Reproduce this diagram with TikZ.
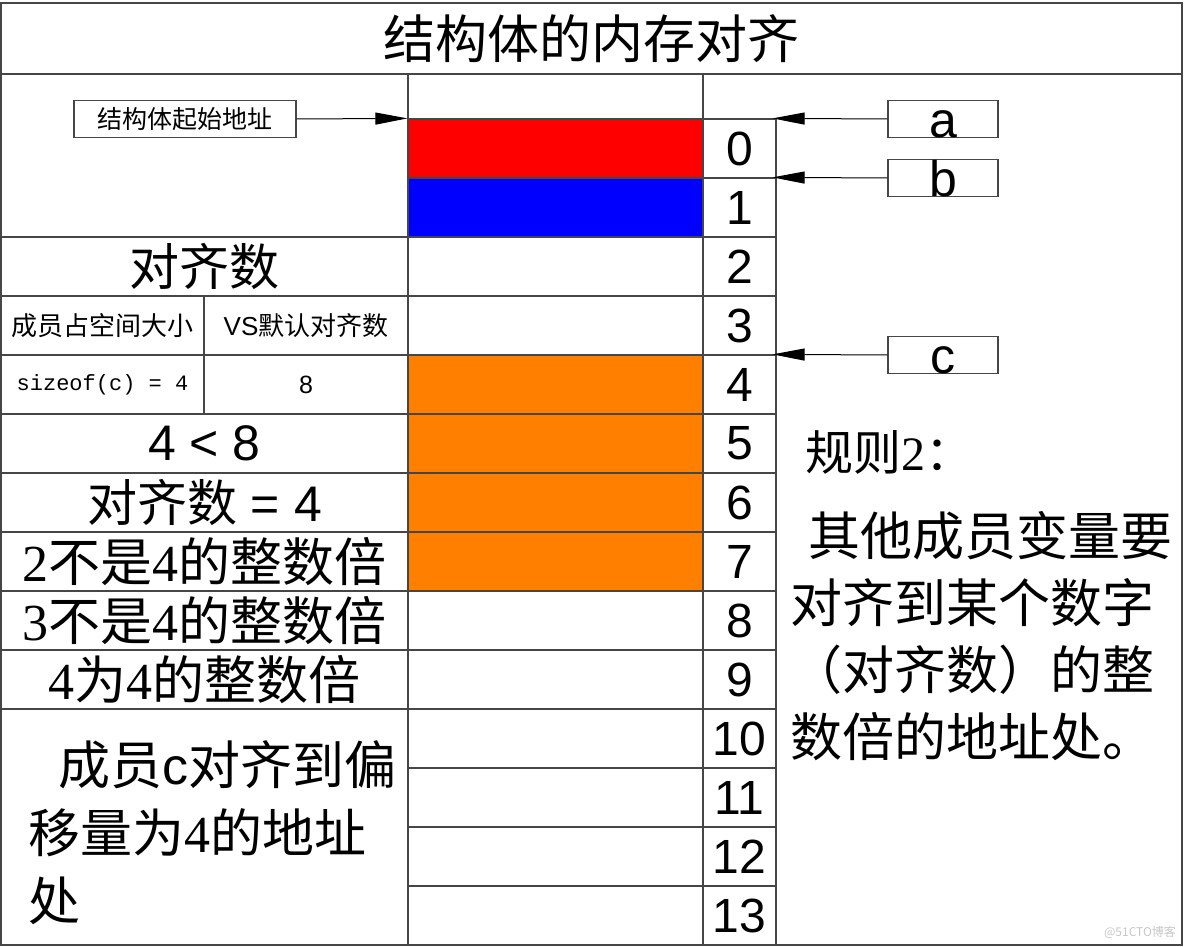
\documentclass[tikz,border=0pt]{standalone}
\usepackage{fontspec}
\setmainfont{Noto Sans CJK SC}
\newfontfamily\arialfont{Liberation Sans}
\newfontfamily\songnum{Liberation Serif}
\newfontfamily\monofont{Liberation Mono}
\usepackage{xcolor}
\usepackage{tikz}
\usetikzlibrary{arrows.meta}

\definecolor{gridline}{RGB}{70,70,70}
\definecolor{memred}{RGB}{255,0,0}
\definecolor{memblue}{RGB}{0,0,255}
\definecolor{memorange}{RGB}{255,128,0}
\newcommand{\fsz}[2]{\fontsize{#1}{#2}\selectfont}

\begin{document}
\begin{tikzpicture}[
    x=1pt, y=-1pt,
    cell/.style 2 args={draw=gridline, line width=1.2pt, inner sep=0pt, minimum width=#1, minimum height=#2},
    ptrbox/.style={draw=gridline, line width=1.2pt, inner sep=0pt, minimum width=110, minimum height=37, text height=37pt, text depth=0pt, font=\arialfont\fsz{50}{50}},
    idx/.style={font=\arialfont\fsz{48}{48}},
    ptr/.style={-{Triangle[length=32pt,width=12pt]}, line width=1pt}
]
    \useasboundingbox (0,0) rectangle (1184,947);

    % Title and big cells
    \node[cell={1181}{71}, font=\fsz{52}{52}] (title) at (591.5,38.5) {结构体的内存对齐};
    \node[cell={479}{871}] (rightarea) at (942.5,509.5) {};
    \node[cell={407}{163}] (startcell) at (204.5,155.5) {};
    \node[cell={295}{45}] (memtop) at (555.5,96.5) {};

    % Memory column and offsets
    \foreach \i/\col in {0/memred, 1/memblue, 2/white, 3/white, 4/memorange, 5/memorange, 6/memorange,
                         7/memorange, 8/white, 9/white, 10/white, 11/white, 12/white, 13/white} {
        \node[cell={295}{59}, fill=\col] (m\i) at (555.5,{148.5+59*\i}) {};
        \node[cell={73}{59}, idx] (n\i) at (739.5,{148.5+59*\i}) {\i};
    }

    % Left column - alignment reasoning
    \node[cell={407}{59}, font=\fsz{50}{50}] (r2) at (204.5,266.5) {对齐数};
    \node[cell={203}{59}, font=\fsz{26}{26}] (r3a) at (102.5,325.5) {成员占空间大小};
    \node[cell={204}{59}, font=\fsz{26}{26}] (r3b) at (306,325.5) {{\arialfont VS}默认对齐数};
    \node[cell={203}{59}, font=\monofont\fsz{22}{22}] (r4a) at (102.5,384.5) {sizeof(c) = 4};
    \node[cell={204}{59}, font=\arialfont\fsz{25}{25}] (r4b) at (306,384.5) {8};
    \node[cell={407}{59}, font=\arialfont\fsz{50}{50}] (r5) at (204.5,443.5) {4 < 8};
    \node[cell={407}{59}, font=\fsz{50}{50}] (r6) at (204.5,502.5) {对齐数{\arialfont{} = 4}};
    \node[cell={407}{59}, font=\fsz{52}{52}] (r7) at (204.5,561.5) {{\songnum 2}不是{\songnum 4}的整数倍};
    \node[cell={407}{59}, font=\fsz{52}{52}] (r8) at (204.5,620.5) {{\songnum 3}不是{\songnum 4}的整数倍};
    \node[cell={407}{59}, font=\fsz{52}{52}] (r9) at (204.5,679.5) {{\songnum 4}为{\songnum 4}的整数倍};
    \node[cell={407}{236}] (r10) at (204.5,827) {};
    \node[anchor=west, inner sep=0pt, align=left, font=\fsz{52}{68}] (offsetnote) at (28,833)
        {\hspace*{30pt}成员{\arialfont c}对齐到偏\\移量为{\songnum 4}的地址\\处};

    % Pointers
    \node[draw=gridline, line width=1.2pt, minimum width=222, minimum height=37, inner sep=0pt, font=\fsz{25}{25}] (startaddr) at (185,119) {结构体起始地址};
    \node[ptrbox] (a) at (943,119) {a};
    \node[ptrbox] (b) at (943,178) {b};
    \node[ptrbox] (c) at (943,355) {c};

    \draw[ptr] (startaddr.east) -- (m0.north west);
    \draw[ptr, shorten >=-4pt] (a.west) -- (n0.north east);
    \draw[ptr, shorten >=-4pt] (b.west) -- (n1.north east);
    \draw[ptr, shorten >=-4pt] (c.west) -- (n4.north east);

    % Rule
    \node[anchor=west, inner sep=0pt, font=\fsz{48}{48}] (ruletitle) at (805,452) {规则{\songnum 2}：};
    \node[anchor=west, inner sep=0pt, align=left, font=\fsz{52}{67}] (rulebody) at (790,636)
        {\hspace*{18pt}其他成员变量要\\对齐到某个数字\\（对齐数）的整\\数倍的地址处。};

    \node[font=\fsz{12}{12}, text=gray!45] (mark) at (1140,932) {@51CTO博客};
\end{tikzpicture}
\end{document}
